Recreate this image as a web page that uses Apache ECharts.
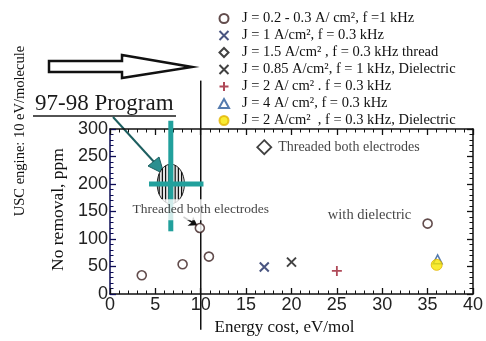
<!DOCTYPE html>
<html>
<head>
<meta charset="utf-8">
<script src="https://cdn.jsdelivr.net/npm/echarts@6/dist/echarts.min.js"></script>
<style>
  html, body { margin: 0; padding: 0; background: #fff; }
  #chart { width: 486px; height: 341px; }
</style>
</head>
<body>
<div id="chart"></div>
<script>
// 数据
const seriesNames = [
    'J = 0.2 - 0.3 A/ cm², f =1 kHz',
    'J = 1 A/cm², f = 0.3 kHz',
    'J = 1.5 A/cm² , f = 0.3 kHz thread',
    'J = 0.85 A/cm², f = 1 kHz, Dielectric',
    'J = 2 A/ cm² . f = 0.3 kHz',
    'J = 4 A/ cm², f = 0.3 kHz',
    'J = 2 A/cm²  , f = 0.3 kHz, Dielectric'
];
const lowCurrent = [[3.5, 34], [8, 54], [10.9, 68], [9.9, 120], [35, 128]];
const oneAmp = [[17, 49]];
const threaded = [[17, 267]];
const dielectric085 = [[20, 58]];
const twoAmp = [[25, 42]];
const fourAmp = [[36.1, 63]];
const twoAmpDielectric = [[36, 53]];

const xTicks = [0, 5, 10, 15, 20, 25, 30, 35, 40];
const yTicks = [0, 50, 100, 150, 200, 250, 300];

// 97-98 program box: centre x, centre y, half width, half height
const programBox = [[6.7, 200, 1.5, 36]];
const programVBar = [[6.7, 315], [6.7, 114]];
const programHBar = [[4.3, 200], [10.3, 200]];
const uscLine = [[10, 388], [10, -65]];

const notes = [
    {name: 'Threaded both electrodes', value: [10, 153], size: 13.5},
    {name: 'with dielectric', value: [28.6, 144], size: 14.5}
];
const noteArrow = [[8.1, 140], [9.6, 125]];

const serif = '"Liberation Serif", "DejaVu Serif", serif';
const sans = '"Liberation Sans", Arial, sans-serif';
const teal = '#21a09c';

const crossPath = 'path://M0,0L10,10M10,0L0,10';
const plusPath = 'path://M5,0L5,10M0,5L10,5';
const diamondPath = 'path://M5,0L10,5L5,10L0,5Z';

const myChart = echarts.init(document.getElementById('chart'));

function valueAxis(pos, ticks, showLabel, extra) {
    return Object.assign({
        type: 'value',
        position: pos,
        min: ticks[0],
        max: ticks[ticks.length - 1],
        interval: ticks[1] - ticks[0],
        axisLine: {show: true, onZero: false, lineStyle: {color: '#111', width: 1.5}},
        axisTick: {show: true, inside: true, length: 6, lineStyle: {color: '#111', width: 1.3}},
        minorTick: {show: true, splitNumber: 5, length: 3.5, lineStyle: {color: '#111', width: 1}},
        splitLine: {show: false},
        axisLabel: {
            show: showLabel,
            color: '#222',
            fontFamily: sans,
            fontSize: 18,
            margin: 2
        }
    }, extra || {});
}

const option = {
    animation: false,
    backgroundColor: '#fff',
    grid: {left: 110, right: 13, top: 129, bottom: 38},
    legend: {
        data: seriesNames,
        orient: 'vertical',
        left: 212,
        top: 6,
        itemWidth: 10,
        itemHeight: 9,
        itemGap: 2,
        selectedMode: false,
        textStyle: {
            color: '#111',
            fontFamily: serif,
            fontSize: 14.5,
            lineHeight: 14,
            padding: [0, 0, 0, 8]
        }
    },
    xAxis: [
        valueAxis('bottom', xTicks, true, {
            name: 'Energy cost, eV/mol',
            nameLocation: 'middle',
            nameGap: 25,
            nameTextStyle: {color: '#111', fontFamily: serif, fontSize: 17, padding: [0, 14, 0, 0]}
        }),
        valueAxis('top', xTicks, false)
    ],
    yAxis: [
        valueAxis('left', yTicks, true, {
            name: 'No removal, ppm',
            nameLocation: 'middle',
            nameGap: 39,
            nameTextStyle: {color: '#111', fontFamily: serif, fontSize: 17.5, padding: [0, 0, 0, 4]},
            axisLine: {show: true, onZero: false, lineStyle: {color: '#0c0c55', width: 1.5}},
            axisTick: {show: true, inside: true, length: 6, lineStyle: {color: '#0c0c55', width: 1.3}},
            minorTick: {show: true, splitNumber: 5, length: 3.5, lineStyle: {color: '#0c0c55', width: 1}}
        }),
        valueAxis('right', yTicks, false)
    ],
    graphic: [
        {
            type: 'polygon',
            shape: {points: [[49, 61], [122, 61], [122, 55], [192, 67], [122, 78], [122, 72], [49, 72]]},
            style: {fill: '#fff', stroke: '#111', lineWidth: 2.5}
        },
        {
            type: 'text',
            x: 35, y: 92,
            style: {text: '97-98 Program', fill: '#1a1a1a', font: '23px ' + serif, verticalAlign: 'top'}
        },
        {
            type: 'line',
            shape: {x1: 33, y1: 116, x2: 176, y2: 116},
            style: {stroke: '#1a1a1a', lineWidth: 1.3}
        },
        {
            type: 'line',
            shape: {x1: 113, y1: 117, x2: 155, y2: 163},
            style: {stroke: '#1d5f60', lineWidth: 2}
        },
        {
            type: 'polygon',
            shape: {points: [[164, 174], [148, 166], [159, 157]]},
            style: {fill: '#2a8f8f', stroke: '#1d5f60', lineWidth: 1}
        },
        {
            type: 'text',
            x: 20, y: 131,
            rotation: Math.PI / 2,
            style: {
                text: 'USC engine: 10 eV/molecule', fill: '#111', font: '14.5px ' + serif,
                align: 'center', verticalAlign: 'middle'
            }
        }
    ],
    series: [
        {
            name: seriesNames[0], type: 'scatter', data: lowCurrent,
            symbol: 'circle', symbolSize: 9, z: 6,
            itemStyle: {color: '#fff', borderColor: '#3b1f1f', borderWidth: 1.6}
        },
        {
            name: seriesNames[1], type: 'scatter', data: oneAmp,
            symbol: crossPath, symbolSize: 9, z: 6,
            itemStyle: {color: 'none', borderColor: '#1c2a60', borderWidth: 2}
        },
        {
            name: seriesNames[2], type: 'scatter', data: threaded,
            symbol: diamondPath, symbolSize: 14, z: 6,
            itemStyle: {color: '#fff', borderColor: '#111', borderWidth: 1.8},
            label: {
                show: true, position: 'right', distance: 6,
                formatter: 'Threaded both electrodes',
                color: '#111', fontFamily: serif, fontSize: 14
            }
        },
        {
            name: seriesNames[3], type: 'scatter', data: dielectric085,
            symbol: crossPath, symbolSize: 9, z: 6,
            itemStyle: {color: 'none', borderColor: '#111', borderWidth: 2}
        },
        {
            name: seriesNames[4], type: 'scatter', data: twoAmp,
            symbol: plusPath, symbolSize: 10, z: 6,
            itemStyle: {color: 'none', borderColor: '#9b1b2e', borderWidth: 1.8}
        },
        {
            name: seriesNames[5], type: 'scatter', data: fourAmp,
            symbol: 'triangle', symbolSize: 9, z: 6,
            itemStyle: {color: '#fff', borderColor: '#2a5a9a', borderWidth: 1.5}
        },
        {
            name: seriesNames[6], type: 'scatter', data: twoAmpDielectric,
            symbol: 'circle', symbolSize: 11, z: 7,
            itemStyle: {color: '#f7e600', borderColor: '#e2b400', borderWidth: 1}
        },
        {
            type: 'line', data: uscLine, clip: false, showSymbol: false, symbol: 'none',
            silent: true, z: 3,
            lineStyle: {color: '#111', width: 1.5}
        },
        {
            type: 'custom', data: programBox, clip: false, silent: true, z: 2,
            renderItem: function (params, api) {
                const c = api.coord([api.value(0), api.value(1)]);
                const s = api.size([api.value(2), api.value(3)]);
                const rx = s[0], ry = s[1];
                const children = [{
                    type: 'ellipse',
                    shape: {cx: c[0], cy: c[1], rx: rx, ry: ry},
                    style: {fill: '#e4e4e4', stroke: '#222', lineWidth: 1}
                }];
                for (let dx = -rx + 2; dx < rx - 1; dx += 3.2) {
                    const h = ry * Math.sqrt(1 - (dx / rx) * (dx / rx));
                    children.push({
                        type: 'line',
                        shape: {x1: c[0] + dx, y1: c[1] - h, x2: c[0] + dx, y2: c[1] + h},
                        style: {stroke: '#111', lineWidth: 1.2}
                    });
                }
                return {type: 'group', children: children};
            }
        },
        {
            type: 'line', data: programVBar, clip: false, showSymbol: false, symbol: 'none',
            silent: true, z: 4,
            lineStyle: {color: teal, width: 5, cap: 'butt'}
        },
        {
            type: 'line', data: programHBar, clip: false, showSymbol: false, symbol: 'none',
            silent: true, z: 4,
            lineStyle: {color: teal, width: 5, cap: 'butt'}
        },
        {
            type: 'scatter', symbolSize: 0, silent: true, z: 10,
            data: notes.map(function (n) {
                return {name: n.name, value: n.value, label: {fontSize: n.size}};
            }),
            label: {
                show: true, position: 'inside',
                formatter: function (p) { return p.name; },
                color: '#111', fontFamily: serif,
                fontSize: 13,
                backgroundColor: '#fff',
                padding: [3, 0, 4, 0]
            },
            markLine: {
                silent: true,
                symbol: ['none', 'arrow'],
                symbolSize: 8,
                label: {show: false},
                lineStyle: {color: '#111', width: 1.5, type: 'solid'},
                data: [[{coord: noteArrow[0]}, {coord: noteArrow[1]}]]
            }
        }
    ]
};

myChart.setOption(option);
window.addEventListener('resize', myChart.resize);
</script>
</body>
</html>
